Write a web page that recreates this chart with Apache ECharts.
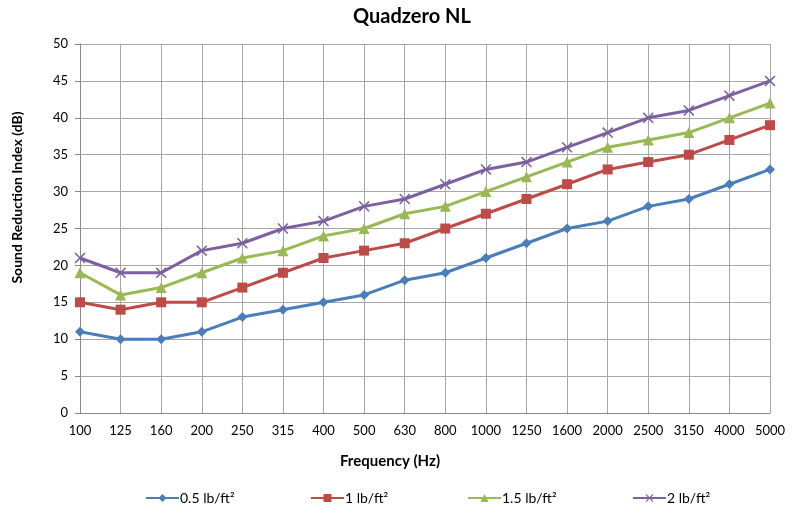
<!DOCTYPE html>
<html><head><meta charset="utf-8">
<script src="https://cdn.jsdelivr.net/npm/echarts@6/dist/echarts.min.js"></script>
<style>html,body{margin:0;padding:0;background:#fff}#c{width:793px;height:510px}</style>
</head><body><div id="c"></div>
<script>
const categories = ['100','125','160','200','250','315','400','500','630','800','1000','1250','1600','2000','2500','3150','4000','5000'];
const s05 = [11,10,10,11,13,14,15,16,18,19,21,23,25,26,28,29,31,33];
const s1 = [15,14,15,15,17,19,21,22,23,25,27,29,31,33,34,35,37,39];
const s15 = [19,16,17,19,21,22,24,25,27,28,30,32,34,36,37,38,40,42];
const s2 = [21,19,19,22,23,25,26,28,29,31,33,34,36,38,40,41,43,45];
const names = ['0.5 lb/ft²','1 lb/ft²','1.5 lb/ft²','2 lb/ft²'];
const colors = ['#4a7ebb','#be4b48','#98b954','#7d60a0'];
const font = 'Lato, sans-serif';
const crossPath = 'path://M1,0L5,4L9,0L10,1L6,5L10,9L9,10L5,6L1,10L0,9L4,5L0,1Z';
function mk(name, data, color, symbol, size) {
  return {name, type:'line', data, symbol, symbolSize:size, showSymbol:true,
    lineStyle:{color, width:3}, itemStyle:{color}, emphasis:{disabled:true}};
}
const legendLefts = [140, 305, 462, 627];
const chart = echarts.init(document.getElementById('c'));
chart.setOption({
  animation:false,
  color: colors,
  title:{text:'Quadzero NL', left:348, top:2, textStyle:{fontFamily:font, fontSize:20, fontWeight:'bold', color:'#000'}},
  grid:{left:80, right:23, top:44, bottom:97},
  xAxis:{type:'category', data:categories, boundaryGap:false,
    name:'Frequency (Hz)', nameLocation:'middle', nameGap:41,
    nameTextStyle:{fontFamily:font, fontSize:15, fontWeight:'bold', color:'#000', padding:[0,70,0,0]},
    axisLine:{lineStyle:{color:'#888'}}, axisTick:{show:false},
    axisLabel:{fontFamily:font, fontSize:13, color:'#000', margin:11, interval:0},
    splitLine:{show:true, interval:0, lineStyle:{color:'#a6a6a6', width:1}}},
  yAxis:{type:'value', min:0, max:50, interval:5,
    name:'Sound Reduction Index (dB)', nameLocation:'middle', nameGap:56,
    nameTextStyle:{fontFamily:font, fontSize:14, fontWeight:'bold', color:'#000', padding:[0,0,0,62]},
    axisLine:{show:true, lineStyle:{color:'#888'}}, axisTick:{show:true, length:5, lineStyle:{color:'#888'}},
    axisLabel:{fontFamily:font, fontSize:13, color:'#000', margin:12},
    splitLine:{show:true, lineStyle:{color:'#a6a6a6', width:1}}},
  legend: names.map((n,i)=>({left:legendLefts[i], top:486, itemWidth:33, itemHeight:10, itemGap:2,
    textStyle:{fontFamily:font, fontSize:14, color:'#000', padding:[0,0,0,-4]}, data:[n]})),
  series:[
    mk(names[0], s05, colors[0], 'diamond', 10),
    mk(names[1], s1, colors[1], 'rect', 10),
    mk(names[2], s15, colors[2], 'triangle', 11),
    mk(names[3], s2, colors[3], crossPath, 11)
  ]
});
</script></body></html>
